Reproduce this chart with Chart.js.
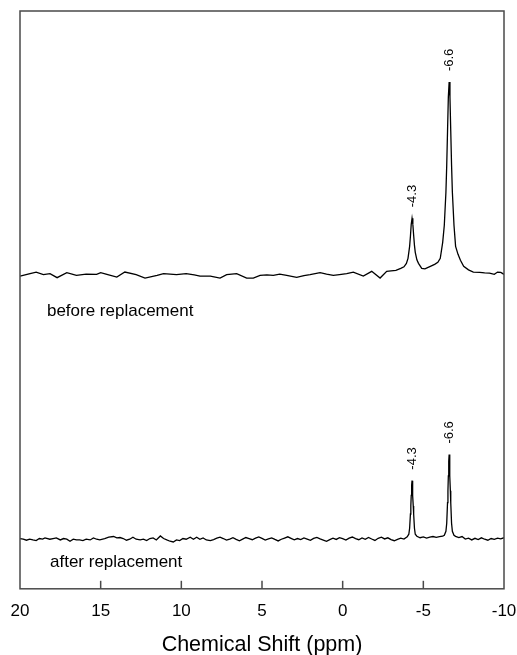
<!DOCTYPE html>
<html>
<head>
<meta charset="utf-8">
<script src="https://cdn.jsdelivr.net/npm/chart.js"></script>
<style>
  body { margin: 0; background: #fff; }
  canvas { display: block; }
</style>
</head>
<body>
<canvas id="nmr" width="517" height="655"></canvas>
<script>
// spectrum before replacement: chemical shift (ppm) and intensity (a.u., baseline = 0)
const beforeShift = [
  20.0, 19.5, 19.0, 18.55, 18.14, 17.7, 17.1, 16.5, 15.9, 15.25,
  15.0, 14.5, 14.0, 13.5, 12.8, 12.25, 11.5, 11.1, 10.3, 9.7,
  9.2, 8.84, 8.2, 7.6, 7.19, 6.57, 5.95, 5.54, 5.12, 4.7,
  4.3, 3.9, 3.47, 2.85, 2.4, 2.02, 1.4, 1.0, 0.58, 0.2,
  -0.25, -0.66, -1.28, -1.8, -2.32, -2.73, -3.0, -3.3, -3.6, -3.8,
  -3.95, -4.05, -4.15, -4.2, -4.25, -4.3, -4.35, -4.4, -4.45, -4.5,
  -4.6, -4.7, -4.9, -5.1, -5.4, -5.7, -5.9, -6.05, -6.2, -6.3,
  -6.4, -6.45, -6.5, -6.55, -6.6, -6.65, -6.7, -6.75, -6.8, -6.9,
  -7.0, -7.15, -7.3, -7.5, -7.8, -8.1, -8.5, -8.8, -9.1, -9.4,
  -9.6, -9.8, -10.0
];
const beforeIntensity = [
  -1.7, 0.3, 2.3, -0.3, 0.7, -3.3, 1.7, -1.0, 0.2, 0.0,
  1.7, -0.5, -2.7, 2.3, -0.3, -3.7, -1.0, 0.7, -0.3, 0.7,
  -0.5, -1.7, -1.7, -3.7, -0.3, 0.7, -3.7, -3.7, -1.0, -0.5,
  -1.0, 0.3, -1.0, -3.0, -1.2, -0.3, 1.7, 0.2, -1.0, -0.2,
  0.7, 2.3, -1.7, 3.0, -3.7, 3.0, 3.5, 4.0, 6.0, 7.6,
  11, 16, 28, 38, 50, 56, 50, 39, 29, 22,
  14.5, 11, 6, 5.5, 7.7, 10, 12, 16, 32, 49,
  82, 109, 143, 177, 192, 177, 143, 109, 82, 49,
  28, 20, 14, 8, 4.5, 2.3, 2.0, 1.5, 1.3, 0,
  2.3, 2.0, 0
];

// spectrum after replacement
const afterShift = [
  20.0, 19.8, 19.6, 19.4, 19.2, 19.0, 18.8, 18.6, 18.45, 18.15,
  17.95, 17.75, 17.5, 17.3, 17.1, 16.9, 16.7, 16.5, 16.3, 16.1,
  15.9, 15.65, 15.45, 15.25, 15.05, 14.75, 14.5, 14.2, 14.0, 13.8,
  13.6, 13.4, 13.2, 13.0, 12.8, 12.55, 12.35, 12.15, 11.95, 11.75,
  11.55, 11.3, 11.1, 10.9, 10.7, 10.5, 10.3, 10.1, 9.9, 9.7,
  9.45, 9.25, 9.05, 8.85, 8.65, 8.45, 8.2, 8.0, 7.8, 7.6,
  7.4, 7.2, 7.0, 6.8, 6.6, 6.4, 6.2, 6.0, 5.8, 5.6,
  5.4, 5.2, 5.0, 4.8, 4.6, 4.4, 4.2, 4.0, 3.8, 3.6,
  3.4, 3.2, 3.0, 2.8, 2.6, 2.4, 2.2, 2.0, 1.8, 1.6,
  1.4, 1.2, 1.0, 0.8, 0.6, 0.4, 0.2, 0.0, -0.2, -0.4,
  -0.6, -0.8, -1.0, -1.2, -1.4, -1.6, -1.8, -2.0, -2.2, -2.4,
  -2.6, -2.8, -3.0, -3.2, -3.4, -3.6, -3.8, -4.0, -4.1, -4.15,
  -4.2, -4.225, -4.25, -4.275, -4.3, -4.325, -4.35, -4.375, -4.4, -4.45,
  -4.5, -4.6, -4.8, -5.0, -5.2, -5.4, -5.6, -5.8, -6.0, -6.2,
  -6.3, -6.4, -6.45, -6.5, -6.525, -6.55, -6.575, -6.6, -6.625, -6.65,
  -6.675, -6.7, -6.75, -6.8, -6.9, -7.0, -7.2, -7.4, -7.6, -7.8,
  -8.0, -8.2, -8.4, -8.6, -8.8, -9.0, -9.2, -9.4, -9.6, -9.8,
  -10.0
];
const afterIntensity = [
  0.2, -0.5, -1.5, -0.5, -1.2, -1.8, 0.2, -0.4, 0.8, -0.5,
  0.2, 0.8, -1.2, 0.2, -0.5, -2.5, -0.5, -1.2, -1.2, -1.8,
  -0.5, -1.2, 0.8, -0.5, -1.2, 0.2, 1.5, 2.2, 0.8, 1.2,
  0.2, -1.5, -0.5, 1.5, -0.5, -1.2, -0.5, -1.8, 0.2, 0.8,
  -1.2, 2.8, 0.2, -1.2, -2.5, -3.2, -1.2, -1.8, 0.2, -0.5,
  1.5, -0.5, 1.5, -0.5, 0.8, -1.2, -1.8, -0.8, 0.5, 1.6,
  0.2, -1.4, -0.3, 1.0, -0.6, -2.0, -0.4, 1.2, 0.1, -1.0,
  0.6, 1.8, 0.3, -1.3, -0.2, 0.9, -0.7, -2.2, -0.5, 0.7,
  1.9, 0.4, -1.1, 0.2, -0.9, 0.8, -0.4, -1.6, 0.3, 1.4,
  -0.2, -1.3, -2.6, -0.9, 0.5, -0.7, 1.1, 0.0, -1.4, 0.6,
  1.7, 0.1, -1.0, 0.8, -0.5, 1.3, -0.3, -1.7, 0.4, 1.5,
  -0.2, 0.9, -0.8, -2.0, -0.6, 0.5, -0.4, 2.0, 4.5, 10.5,
  24.7, 32.8, 43.2, 53.4, 58.0, 53.4, 43.2, 32.8, 24.7, 10.5,
  4.5, 2.5, 1.0, 1.8, 0.6, 1.5, 2.2, 1.4, 2.0, 2.5,
  3.5, 7.5, 15.5, 36.0, 47.9, 62.8, 77.4, 84.0, 77.4, 62.8,
  47.9, 36.0, 15.5, 7.5, 3.5, 2.4, 1.2, 2.2, -0.3, 0.6,
  -1.2, 0.4, -0.8, 0.9, -0.5, -1.5, 0.2, -0.6, 0.5, -0.2,
  1.0
];

// labelled peaks and x axis ticks
const peakShifts = [-4.3, -6.6];
const peakLabels = ["-4.3", "-6.6"];
const xTicks = [20, 15, 10, 5, 0, -5, -10];

const traceNames = ["before replacement", "after replacement"];
const traceOffsets = [264, 0]; // vertical stacking of the two spectra

const FONT = '"Liberation Sans", Arial, Helvetica, sans-serif';

const traces = [
  { shift: beforeShift, intensity: beforeIntensity },
  { shift: afterShift, intensity: afterIntensity },
];

// frame, inward ticks, trace names and peak labels
const decor = {
  id: "decor",
  afterDraw(chart) {
    const { ctx, chartArea: a, scales: { x, y } } = chart;
    ctx.save();
    ctx.strokeStyle = "#4a4a4a";
    ctx.lineWidth = 1.5;
    ctx.strokeRect(a.left, a.top, a.right - a.left, a.bottom - a.top);
    x.ticks.forEach((t) => {
      if (t.value <= x.min || t.value >= x.max) return;
      const px = x.getPixelForValue(t.value);
      ctx.beginPath();
      ctx.moveTo(px, a.bottom);
      ctx.lineTo(px, a.bottom - 8);
      ctx.stroke();
    });

    ctx.fillStyle = "#000";
    ctx.font = "17px " + FONT;
    ctx.textAlign = "left";
    ctx.textBaseline = "alphabetic";
    ctx.fillText(traceNames[0], x.getPixelForValue(18.33), y.getPixelForValue(traceOffsets[0] - 42));
    ctx.fillText(traceNames[1], x.getPixelForValue(18.14), y.getPixelForValue(traceOffsets[1] - 28));

    ctx.font = "13px " + FONT;
    traces.forEach((tr, k) => {
      peakShifts.forEach((s, i) => {
        const idx = tr.shift.indexOf(s);
        const px = x.getPixelForValue(s);
        const py = y.getPixelForValue(tr.intensity[idx] + traceOffsets[k]) - 11;
        ctx.save();
        ctx.translate(px, py);
        ctx.rotate(-Math.PI / 2);
        ctx.textAlign = "left";
        ctx.textBaseline = "middle";
        ctx.fillText(peakLabels[i], 0, 0);
        ctx.restore();
      });
    });
    ctx.restore();
  },
};

new Chart(document.getElementById("nmr").getContext("2d"), {
  type: "line",
  data: {
    datasets: traces.map((tr, k) => ({
      label: traceNames[k],
      data: tr.shift.map((s, i) => ({ x: s, y: tr.intensity[i] + traceOffsets[k] })),
      borderColor: "#000",
      borderWidth: 1.3,
      pointRadius: 0,
      tension: 0,
      fill: false,
    })),
  },
  options: {
    responsive: false,
    animation: false,
    layout: { padding: { top: 11, left: 20, right: 13, bottom: 0 } },
    plugins: { legend: { display: false }, tooltip: { enabled: false } },
    scales: {
      x: {
        type: "linear",
        reverse: true,
        min: -10,
        max: 20,
        afterBuildTicks: (scale) => {
          scale.ticks = xTicks.map((v) => ({ value: v }));
        },
        ticks: {
          padding: 0,
          color: "#000",
          font: { size: 17, family: FONT },
          callback: (v) => String(v),
        },
        // grid hidden; tickLength only reserves the gap above the labels
        grid: { display: false, drawTicks: true, tickLength: 12 },
        border: { display: false },
        title: {
          display: true,
          text: "Chemical Shift (ppm)",
          color: "#000",
          font: { size: 21.5, family: FONT },
          padding: { top: 11, bottom: -3 },
        },
      },
      y: { display: false, min: -50, max: 527 },
    },
  },
  plugins: [decor],
});
</script>
</body>
</html>
